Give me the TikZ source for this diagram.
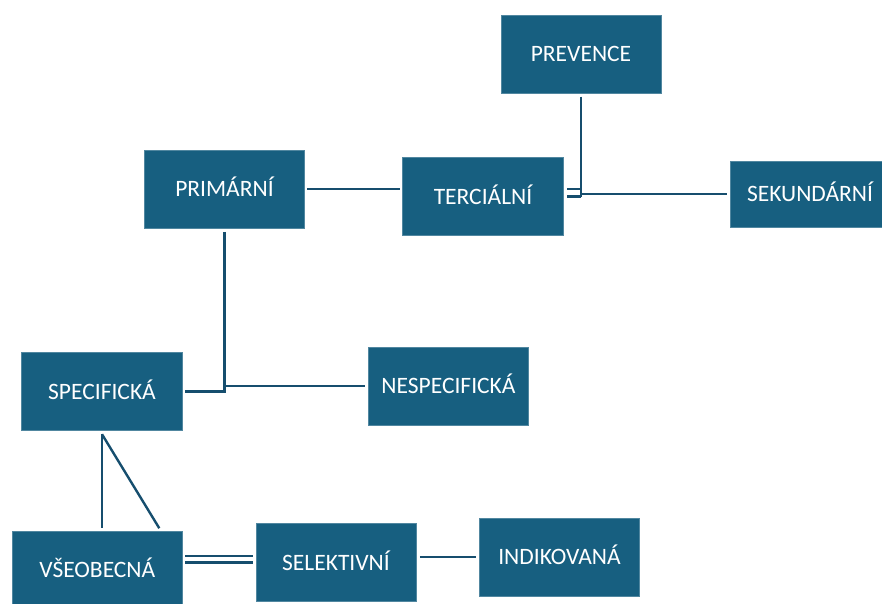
\documentclass[tikz,border=0pt]{standalone}
\usepackage{fontspec}
\setmainfont{Carlito}
\definecolor{boxc}{RGB}{23,95,128}
\definecolor{linec}{RGB}{22,78,110}
\begin{document}
\begin{tikzpicture}[x=1pt,y=-1pt,
  box/.style={fill=boxc, draw=boxc!75!white, line width=0.5pt, text=white,
    minimum width=160pt, minimum height=78pt, inner sep=0pt,
    font=\fontsize{23.5}{28}\selectfont, text height=15pt, text depth=0pt},
  conn/.style={draw=linec, line width=2.4pt}]
\useasboundingbox (0,0) rectangle (882,604);
\node[box] (prev) at (581,54) {PREVENCE};
\node[box] (prim) at (224.5,189) {PRIMÁRNÍ};
\node[box, minimum width=161pt] (terc) at (483,196.5) {TERCIÁLNÍ};
\node[box, minimum height=66pt] (sek) at (810,194) {SEKUNDÁRNÍ};
\node[box, minimum width=161pt] (spec) at (102,391.5) {SPECIFICKÁ};
\node[box] (nesp) at (448.5,386) {NESPECIFICKÁ};
\node[box, minimum width=170pt] (vseo) at (97.3,570) {VŠEOBECNÁ};
\node[box] (sel) at (336,562.5) {SELEKTIVNÍ};
\node[box] (ind) at (559.5,557) {INDIKOVANÁ};
% primarni - terciarni
\draw[conn] ([xshift=2.5pt]prim.east) -- ([xshift=-2.5pt]prim.east -| terc.west);
% prevence - sekundarni (with terciarni)
\coordinate (j1) at (prev.south |- sek.west);
\draw[conn] ([yshift=-3.5pt]prev.south) -- ([yshift=-3pt]j1);
\draw[conn] (j1) -- ([xshift=-3pt]sek.west);
\draw[conn] ([xshift=3.5pt,yshift=7.5pt]terc.east) -- ([yshift=7.5pt]terc.east -| j1);
\draw[conn] ([xshift=3.5pt]terc.east) -- (terc.east -| j1);
% primarni - specificka / nespecificka
\coordinate (j2) at ([yshift=-3.5pt]prim.south);
\coordinate (j3) at (j2 |- spec.east);
\draw[conn] (j2) -- ([yshift=-1pt]j3);
\draw[conn] (j2 |- nesp.west) -- ([xshift=-3pt]nesp.west);
\draw[conn] ([xshift=2.5pt]spec.east) -- (j3);
% specificka - vseobecna
\coordinate (j4) at ([yshift=-3.5pt]spec.south);
\draw[conn] (j4) -- ([yshift=2.5pt]j4 |- vseo.north);
\draw[conn] (j4) -- ([xshift=62pt,yshift=2.5pt]vseo.north);
% vseobecna - selektivni (double)
\draw[conn, line width=2.1pt] ([xshift=2.5pt]vseo.east |- sel.west) -- ([xshift=-2.5pt]sel.west);
\draw[conn, line width=2.1pt] ([xshift=2.5pt,yshift=6.6pt]vseo.east |- sel.west) -- ([xshift=-2.5pt,yshift=6.6pt]sel.west);
% selektivni - indikovana
\draw[conn] ([xshift=3.5pt]sel.east |- ind.west) -- ([xshift=-3.5pt]ind.west);
\end{tikzpicture}
\end{document}
